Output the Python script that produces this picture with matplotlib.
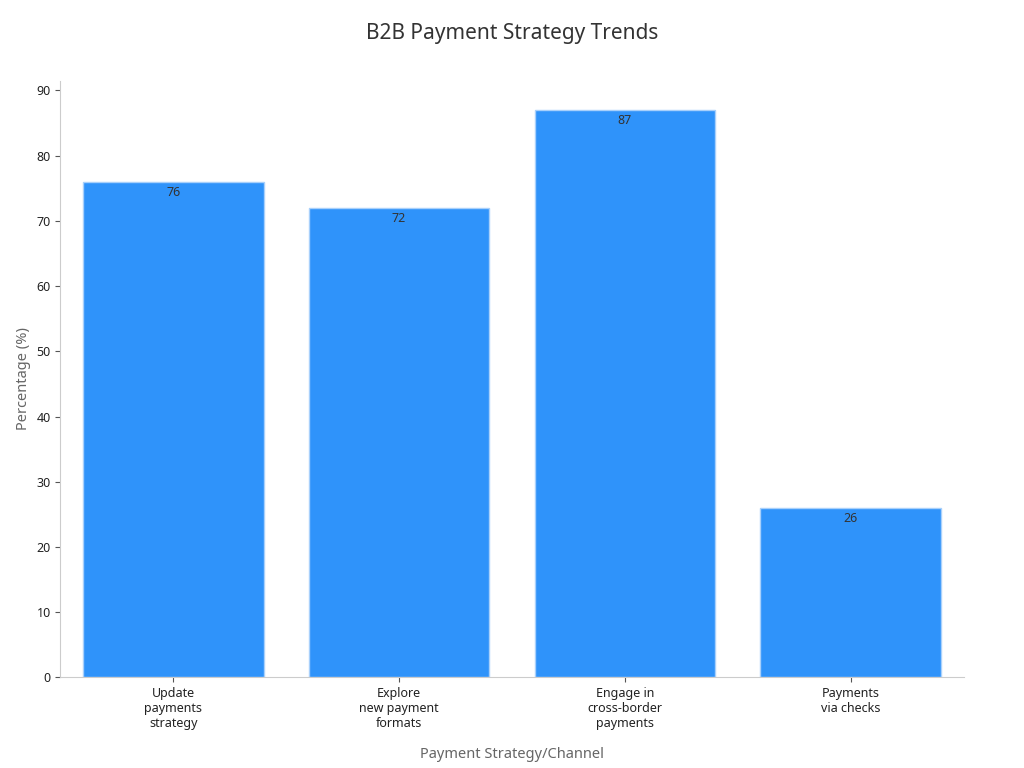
import matplotlib
matplotlib.use("Agg")
import matplotlib.pyplot as plt

categories = ["Update\npayments\nstrategy", "Explore\nnew payment\nformats", "Engage in\ncross-border\npayments", "Payments\nvia checks"]
values = [76, 72, 87, 26]

plt.rcParams['font.family'] = ['Noto Sans', 'DejaVu Sans']
fig = plt.figure(figsize=(10.24, 7.68), dpi=100)
ax = fig.add_axes([0.059, 0.118, 0.882, 0.777])
x = range(len(values))
ax.bar(x, values, width=0.8, color="#2f93fa", edgecolor="#a8d0fb", linewidth=1)
for i, v in enumerate(values):
    ax.text(i, v - 0.6, str(v), ha="center", va="top", fontsize=9, color="#333333")
ax.set_xlim(-0.5, 3.5)
ax.set_ylim(0, 91.5)
ax.set_yticks(range(0, 91, 10))
ax.set_xticks(list(x))
ax.set_xticklabels(categories, fontsize=9, color="#222222")
ax.tick_params(axis="y", labelsize=9, colors="#222222")
ax.tick_params(axis="both", color="#555555")
for s in ["top", "right"]:
    ax.spines[s].set_visible(False)
for s in ["left", "bottom"]:
    ax.spines[s].set_color("#cccccc")
ax.set_xlabel("Payment Strategy/Channel", fontsize=10.5, color="#666666", labelpad=12)
ax.set_ylabel("Percentage (%)", fontsize=10.5, color="#666666")
fig.suptitle("B2B Payment Strategy Trends", fontsize=15, color="#333333", y=0.97)
fig.savefig("out.png")
